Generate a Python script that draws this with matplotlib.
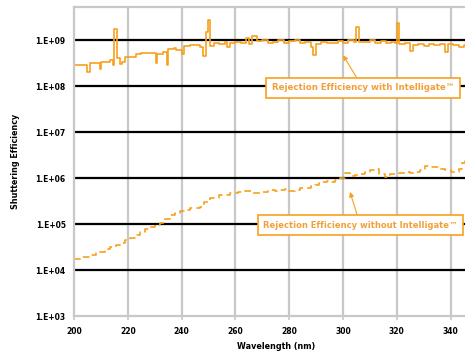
import numpy as np
import matplotlib.pyplot as plt
from matplotlib.ticker import FixedLocator

# shuttering efficiency with Intelligate (solid line)
wl_with = [200, 202, 204, 205, 206, 208, 209.5, 210, 212, 213.5, 214.5, 215, 216, 217,
           218, 219, 221, 223, 225, 227, 229, 230.5, 231, 233, 234.5, 235, 237, 238,
           240, 241, 243, 245, 247, 248, 249, 249.8, 250.5, 252, 254, 256, 257, 258,
           260, 262, 264, 265, 266, 268, 270, 272, 274, 276, 278, 280, 282, 284, 286,
           288, 289, 290, 292, 294, 296, 298, 300, 302, 304, 305, 306, 308, 310, 312,
           314, 316, 318, 319.5, 320, 321, 323, 325, 326, 328, 330, 332, 334, 336,
           338, 339, 341, 343, 345, 347, 350]
eff_with = [2.9e8, 2.9e8, 2.8e8, 2.0e8, 3.1e8, 3.2e8, 2.3e8, 3.3e8, 3.4e8, 3.7e8, 2.9e8,
            1.7e9, 4.0e8, 3.0e8, 3.4e8, 4.2e8, 4.3e8, 5.0e8, 5.3e8, 5.2e8, 5.3e8, 3.2e8,
            5.0e8, 5.4e8, 2.9e8, 6.5e8, 6.8e8, 6.2e8, 5.0e8, 7.5e8, 7.8e8, 7.9e8, 7.0e8,
            4.6e8, 1.5e9, 2.7e9, 7.5e8, 8.5e8, 8.0e8, 9.0e8, 7.2e8, 8.8e8, 9.2e8, 8.5e8,
            1.1e9, 8.0e8, 1.2e9, 9.5e8, 1.0e9, 8.5e8, 9.2e8, 1.0e9, 8.8e8, 9.5e8, 1.0e9,
            8.7e8, 9.0e8, 7.0e8, 4.7e8, 8.2e8, 9.0e8, 8.5e8, 8.8e8, 9.5e8, 8.6e8, 9.8e8,
            9.0e8, 1.9e9, 9.2e8, 9.0e8, 1.0e9, 8.8e8, 9.6e8, 8.4e8, 9.2e8, 8.8e8, 2.3e9,
            8.0e8, 8.5e8, 5.8e8, 7.8e8, 8.2e8, 7.5e8, 8.0e8, 7.6e8, 8.3e8, 5.6e8, 8.0e8,
            7.7e8, 7.0e8, 7.6e8, 7.4e8, 7.8e8]

# without Intelligate (dashed line)
wl_without = [200, 203, 206, 208, 209.7, 211.5, 213.4, 215.5, 217.1, 219, 220.8, 222.5,
              224.5, 226.5, 228.3, 230, 232, 234, 235.7, 237.5, 239.4, 241, 243.1, 245,
              246.8, 248.5, 250.6, 254, 258, 261, 263.6, 266, 269.1, 272, 274.7, 276.5,
              278.4, 280, 282.2, 284, 285.9, 288, 289.6, 291, 292.2, 294, 295.2, 297,
              298.9, 300.7, 302.5, 304.5, 306.5, 308.2, 310, 311.9, 313.5, 315.6, 317.5,
              319.3, 321, 323, 325, 326.8, 328.5, 330.5, 332.5, 334.2, 336, 337.9, 340,
              341.6, 343, 344.2, 345.4, 350]
eff_without = [1.7e4, 1.9e4, 2.1e4, 2.3e4, 2.5e4, 2.8e4, 3.2e4, 3.5e4, 3.9e4, 4.4e4, 5.0e4,
               5.8e4, 6.8e4, 7.6e4, 8.5e4, 9.5e4, 1.05e5, 1.3e5, 1.6e5, 1.75e5, 1.9e5, 2.0e5,
               2.2e5, 2.25e5, 2.3e5, 3.0e5, 3.7e5, 4.2e5, 4.7e5, 5.0e5, 5.2e5, 4.8e5, 5.0e5,
               5.4e5, 5.2e5, 5.6e5, 5.8e5, 5.3e5, 5.5e5, 6.0e5, 6.0e5, 6.6e5, 7.1e5, 7.6e5,
               8.1e5, 8.4e5, 8.1e5, 9.0e5, 1.0e6, 1.3e6, 1.1e6, 1.17e6, 1.25e6, 1.35e6, 1.5e6,
               1.6e6, 1.2e6, 1.07e6, 1.25e6, 1.23e6, 1.3e6, 1.35e6, 1.3e6, 1.35e6, 1.5e6,
               1.8e6, 1.7e6, 1.74e6, 1.6e6, 1.48e6, 1.35e6, 1.35e6, 1.6e6, 2.1e6, 2.5e6, 2.8e6]

yticks = [1e3, 1e4, 1e5, 1e6, 1e7, 1e8, 1e9]
ytick_labels = ['1.E+03', '1.E+04', '1.E+05', '1.E+06', '1.E+07', '1.E+08', '1.E+09']
xticks = [200, 220, 240, 260, 280, 300, 320, 340]

orange = '#F8A01C'
text_orange = '#F2A03A'
grid_gray = '#c8c8c8'

fig = plt.figure(figsize=(4.65, 3.54), dpi=100)
ax = fig.add_axes([74 / 465, 38 / 354, 403.5 / 465, 309 / 354])

ax.plot(wl_with, eff_with, color=orange, lw=1.2, drawstyle='steps-post')
ax.plot(wl_without, eff_without, color=orange, lw=1.2, drawstyle='steps-post',
        linestyle=(0, (4, 2.5)))

ax.set_yscale('log')
ax.set_xlim(200, 350)
ax.set_ylim(1e3, 10 ** (9 + 33 / 46))

ax.yaxis.set_major_locator(FixedLocator(yticks))
ax.set_yticklabels(ytick_labels)
ax.yaxis.set_minor_locator(FixedLocator([]))
ax.set_xticks(xticks)
ax.set_xticklabels([str(x) for x in xticks])

for y in yticks[1:]:
    ax.axhline(y, color='black', lw=1.6, zorder=1)
for x in xticks[1:]:
    ax.axvline(x, color=grid_gray, lw=1.6, zorder=0.5)

for s in ['left', 'top', 'bottom', 'right']:
    ax.spines[s].set_color(grid_gray)
    ax.spines[s].set_linewidth(1.6)

ax.tick_params(axis='y', length=0, pad=6, labelsize=5.5)
ax.tick_params(axis='x', length=3, color=grid_gray, width=1.2, pad=5, labelsize=5.5)
for lab in ax.get_xticklabels() + ax.get_yticklabels():
    lab.set_fontweight('bold')

ax.set_xlabel('Wavelength (nm)', fontsize=5.8, fontweight='bold', labelpad=4)
ax.set_ylabel('Shuttering Efficiency', fontsize=5.8, fontweight='bold', labelpad=11)

box = dict(boxstyle='square,pad=0.65', fc='white', ec=orange, lw=1.2)
arrow = dict(arrowstyle='-|>', color=orange, lw=0.8, mutation_scale=7, shrinkA=0, shrinkB=0)
ax.annotate('Rejection Efficiency with Intelligate™', xy=(300, 4.7e8),
            xytext=(307.4, 9.1e7), fontsize=6.2, fontweight='bold', color=text_orange,
            ha='center', va='center', bbox=box, arrowprops=arrow, zorder=5)
ax.annotate('Rejection Efficiency without Intelligate™', xy=(302.6, 5.0e5),
            xytext=(270.3, 9.5e4), fontsize=6.0, fontweight='bold', color=text_orange,
            ha='left', va='center', bbox=box, arrowprops=arrow, zorder=5)

fig.savefig('out.png', dpi=100)
